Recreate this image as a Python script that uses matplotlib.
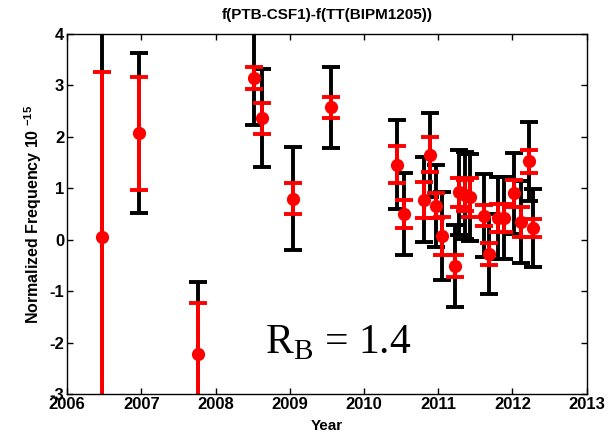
import numpy as np
import matplotlib
matplotlib.use('Agg')
import matplotlib.pyplot as plt

plt.rcParams['font.family'] = 'Liberation Sans'
plt.rcParams['axes.unicode_minus'] = False
plt.rcParams['mathtext.fontset'] = 'custom'
plt.rcParams['mathtext.rm'] = 'Liberation Serif'
plt.rcParams['mathtext.bf'] = 'Liberation Sans:bold'

# f(PTB-CSF1)-f(TT(BIPM1205)) data, in units of 1e-15
years = [2006.47, 2006.97, 2007.76, 2008.52, 2008.62, 2009.05, 2009.56,
         2010.44, 2010.54, 2010.81, 2010.89, 2010.97, 2011.05, 2011.22,
         2011.28, 2011.36, 2011.43, 2011.61, 2011.69, 2011.81, 2011.89,
         2012.02, 2012.11, 2012.22, 2012.28]
values = [0.05, 2.07, -2.23, 3.14, 2.36, 0.80, 2.57,
          1.46, 0.50, 0.78, 1.65, 0.66, 0.07, -0.51,
          0.92, 0.86, 0.82, 0.47, -0.28, 0.42, 0.42,
          0.90, 0.35, 1.52, 0.23]
err_red = [3.2, 1.1, 1.0, 0.21, 0.30, 0.31, 0.20,
           0.36, 0.27, 0.35, 0.34, 0.24, 0.37, 0.22,
           0.28, 0.30, 0.38, 0.21, 0.22, 0.28, 0.28,
           0.26, 0.29, 0.22, 0.18]
err_black = [5.0, 1.56, 1.41, 0.92, 0.95, 1.0, 0.78,
             0.87, 0.80, 0.83, 0.82, 0.80, 0.85, 0.79,
             0.83, 0.85, 0.84, 0.81, 0.77, 0.80, 0.80,
             0.79, 0.80, 0.76, 0.76]
xticks = [2006, 2007, 2008, 2009, 2010, 2011, 2012, 2013]
yticks = [-3, -2, -1, 0, 1, 2, 3, 4]

fig = plt.figure(figsize=(6.15, 4.34), dpi=100)
ax = fig.add_axes([0.109, 0.092, 0.845, 0.830])

# total uncertainty (black) under statistical one (red)
ax.errorbar(years, values, yerr=err_black, fmt='none', ecolor='black',
            elinewidth=2.8, capsize=6.5, capthick=2.8)
ax.errorbar(years, values, yerr=err_red, fmt='o', color='red', ecolor='red',
            markersize=8.5, elinewidth=2.8, capsize=6.5, capthick=2.8)

ax.set_xlim(2006, 2013)
ax.set_ylim(-3, 4)
ax.set_xticks(xticks)
ax.set_yticks(yticks)
ax.tick_params(direction='in', top=True, right=True, length=4, width=1,
               labelsize=12, pad=2)
for lab in ax.get_xticklabels() + ax.get_yticklabels():
    lab.set_fontweight('bold')
for sp in ax.spines.values():
    sp.set_linewidth(1)

ax.set_title('f(PTB-CSF1)-f(TT(BIPM1205))', fontsize=11, fontweight='bold',
             pad=11)
ax.set_xlabel('Year', fontsize=11, fontweight='bold', labelpad=5)
ax.set_ylabel(r'Normalized Frequency 10 $^{\mathbf{-15}}$', fontsize=11.5,
              fontweight='bold', labelpad=4)

ax.text(2008.67, -2.2, r'R$_\mathrm{B}$ = 1.4', fontsize=30,
        family='Liberation Serif', ha='left', va='baseline')

fig.savefig('out.png', dpi=100)
